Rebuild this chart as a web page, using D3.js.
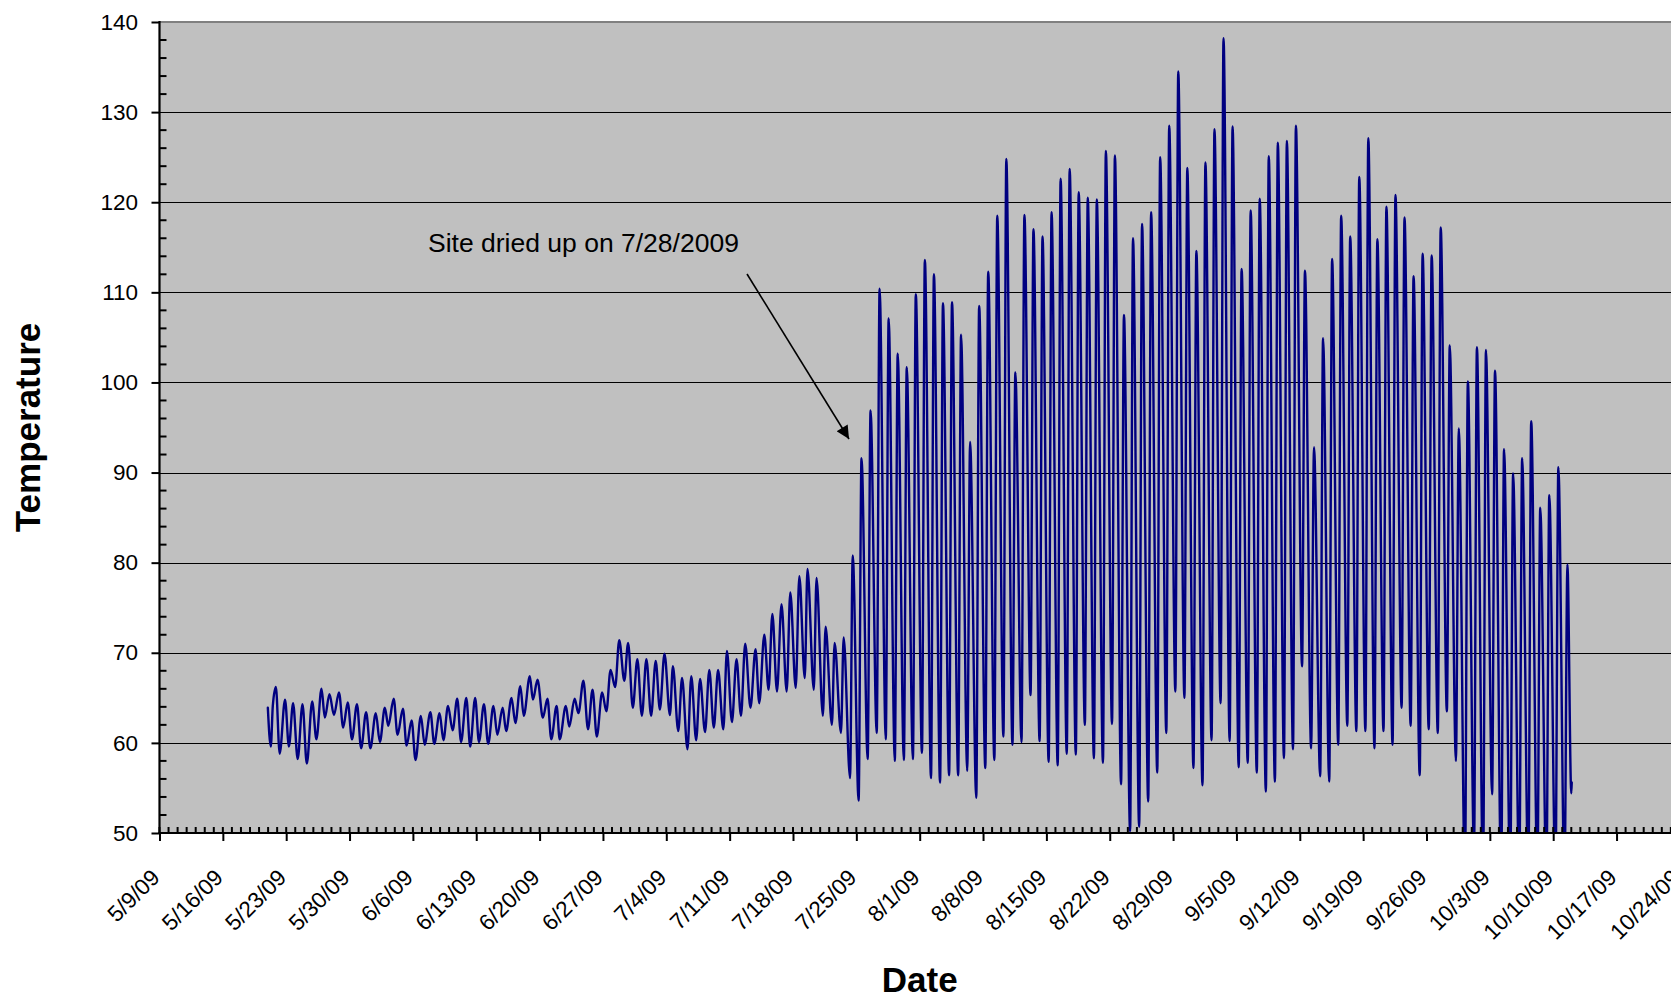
<!DOCTYPE html>
<html><head><meta charset="utf-8">
<script src="https://cdn.jsdelivr.net/npm/d3@7"></script>
<style>
html,body{margin:0;padding:0;background:#fff;overflow:hidden}
text{font-family:Arial,"Liberation Sans",sans-serif;fill:#000}
</style></head>
<body><svg id="c" width="1671" height="999"></svg>
<script>
// ---------- data ----------
const xTickLabels = ["5/9/09","5/16/09","5/23/09","5/30/09","6/6/09","6/13/09","6/20/09","6/27/09",
  "7/4/09","7/11/09","7/18/09","7/25/09","8/1/09","8/8/09","8/15/09","8/22/09","8/29/09","9/5/09",
  "9/12/09","9/19/09","9/26/09","10/3/09","10/10/09","10/17/09","10/24/09"];
const yTicks = [50,60,70,80,90,100,110,120,130,140];

// wet period readings: days since 5/9/09, temperature
const wetDays = [11.97,12.3,12.52,12.86,13.28,13.87,14.3,14.76,15.27,15.8,16.28,16.87,17.34,17.9,18.27,18.78,
  19.28,19.83,20.3,20.8,21.27,21.82,22.28,22.83,23.3,23.9,24.35,24.9,25.28,25.88,26.3,26.9,27.3,27.86,28.29,
  28.88,29.3,29.93,30.36,30.95,31.37,31.88,32.39,32.9,33.32,33.9,34.33,34.88,35.3,35.85,36.32,36.9,37.33,
  37.92,38.3,38.9,39.32,39.87,40.25,40.92,41.26,41.77,42.36,42.87,43.29,43.88,44.22,44.9,45.28,45.87,46.29,
  46.84,47.35,47.85,48.32,48.91,49.38,49.84,50.35,50.8,51.36,51.78,52.3,52.8,53.3,53.8,54.32,54.83,55.29,
  55.8,56.4,56.73,57.32,57.74,58.34,58.76,59.3,59.73,60.28,60.75,61.25,61.72,62.3,62.7,63.25,63.76,64.25,
  64.72,65.3,65.86,66.27,66.83,67.3,67.72,68.23,68.73,69.3,69.7,70.3,70.7,71.3,71.6,72.3,72.6,73.3,73.6,
  74.3,74.6,75.3,75.6,76.3,76.6];
const wetTemps = [63.9,59.6,64.1,66.2,58.8,64.8,59.6,64.4,58.2,64.3,57.7,64.6,60.4,66.0,62.8,65.4,
  63.1,65.6,61.7,64.5,60.4,64.3,59.4,63.4,59.4,63.3,60.1,63.9,61.9,64.9,60.9,63.8,59.7,62.5,58.1,
  63.0,59.8,63.4,59.9,63.3,60.3,64.1,61.4,64.9,60.1,65.0,59.6,65.0,60.1,64.3,59.9,64.1,60.9,
  63.9,61.3,65.0,62.2,66.3,63.0,67.4,64.8,67.0,62.8,64.9,60.4,64.1,60.4,64.1,61.8,64.9,63.3,
  66.9,61.5,65.9,60.7,65.6,63.5,68.1,66.2,71.4,66.9,71.1,63.9,69.3,63.0,69.3,63.0,69.1,63.7,
  69.9,63.1,68.5,61.3,67.2,59.3,67.4,60.3,67.1,61.2,68.1,61.7,68.1,61.5,70.2,62.3,69.3,63.0,
  71.0,63.9,70.4,64.4,72.0,65.9,74.3,65.7,75.4,65.7,76.7,66.1,78.5,67.2,79.3,65.9,78.3,63.0,72.9,
  62.0,71.1,61.1,71.7,56.1,80.8];

// dry period: one morning low and one afternoon high per day, from day 77 (7/25/09)
const dryFirstDay = 77;
const dryLows = [53.6,58.2,61.1,60.4,58.0,58.1,58.2,58.9,56.1,55.6,56.4,56.4,56.9,53.9,57.2,58.1,60.7,59.8,
  60.1,65.3,60.2,57.9,57.5,58.8,58.7,62.0,58.3,57.8,62.1,55.4,50.2,50.7,53.5,56.7,61.1,65.7,65.0,57.2,55.3,
  60.3,64.4,60.2,57.3,57.8,56.7,54.6,55.7,58.3,59.3,68.5,59.4,56.3,55.7,59.8,61.9,61.3,61.3,59.4,61.3,59.8,
  63.9,61.9,56.4,61.5,61.1,63.5,58.0,45,48,45,54.3,45,45,45,45,45,45,45,45];
const dryHighs = [91.6,96.9,110.4,107.1,103.2,101.7,109.8,113.6,112.0,108.8,108.9,105.3,93.4,108.5,112.3,
  118.5,124.8,101.1,118.6,117.0,116.2,118.9,122.6,123.7,121.1,120.5,120.3,125.7,125.2,107.5,116.0,117.6,
  118.9,125.0,128.5,134.5,123.8,114.6,124.4,128.1,138.2,128.4,112.6,119.1,120.4,125.1,126.6,126.8,128.5,
  112.4,92.8,104.9,113.7,118.5,116.2,122.8,127.1,115.9,119.5,120.8,118.3,111.8,114.3,114.1,117.2,104.1,
  94.9,100.1,103.9,103.6,101.3,92.6,89.9,91.6,95.7,86.1,87.5,90.6,79.8];
const tailDays = [156.0,156.05];
const tailTemps = [54.4,55.6];

const annotationText = "Site dried up on 7/28/2009";

// ---------- layout ----------
(function () {
const pL = 159.5, pT = 22, pB = 833, pR = 159.5 + 168 * 9.05;
const origin = Date.UTC(2009, 4, 9);
const toDate = d => new Date(origin + d * 864e5);
const tickDates = xTickLabels.map(s => { const [m, d, yy] = s.split('/').map(Number); return new Date(Date.UTC(2000 + yy, m - 1, d)); });

const x = d3.scaleUtc().domain([tickDates[0], tickDates[tickDates.length - 1]]).range([pL, pR]);
const y = d3.scaleLinear().domain([50, 140]).range([pB, pT]);

const svg = d3.select('#c');
const FONT = 'Arial, "Liberation Sans", sans-serif';

// plot background
svg.append('rect').attr('x', pL).attr('y', pT).attr('width', pR - pL).attr('height', pB - pT)
  .attr('fill', '#c0c0c0');

// gridlines
svg.append('g').selectAll('line').data(yTicks.filter(v => v > 50 && v < 140)).join('line')
  .attr('x1', pL).attr('x2', pR).attr('y1', d => Math.round(y(d)) + 0.5).attr('y2', d => Math.round(y(d)) + 0.5)
  .attr('stroke', '#000').attr('stroke-width', 1);
// top border
svg.append('line').attr('x1', pL).attr('x2', pR).attr('y1', y(140)).attr('y2', y(140))
  .attr('stroke', '#808080').attr('stroke-width', 2);

// data series
const pts = [];
wetDays.forEach((d, i) => pts.push([d, wetTemps[i]]));
dryLows.forEach((v, i) => {
  const day = dryFirstDay + i;
  pts.push([day + 0.25, v]);
  pts.push([day + 0.57, dryHighs[i]]);
});
tailDays.forEach((d, i) => pts.push([d, tailTemps[i]]));

svg.append('clipPath').attr('id', 'plotclip').append('rect')
  .attr('x', pL).attr('y', pT).attr('width', pR - pL).attr('height', pB - pT);

const line = d3.line().curve(d3.curveMonotoneX).x(p => x(toDate(p[0]))).y(p => y(p[1]));
svg.append('path').datum(pts).attr('d', line).attr('clip-path', 'url(#plotclip)')
  .attr('fill', 'none').attr('stroke', '#000080').attr('stroke-width', 2.4)
  .attr('stroke-linejoin', 'round').attr('stroke-linecap', 'round');

// y axis
const yAxis = svg.append('g').attr('transform', `translate(${pL},0)`)
  .call(d3.axisLeft(y).tickValues(yTicks).tickSize(8).tickPadding(13.5).tickFormat(d3.format('d')));
yAxis.select('.domain').remove();
yAxis.selectAll('.tick line').attr('stroke', '#000').attr('stroke-width', 2);
yAxis.selectAll('text').attr('font-size', 22.5).attr('font-family', FONT).attr('fill', '#000');
// y minor ticks
const yMinor = d3.range(52, 140, 2).filter(v => v % 10 !== 0);
svg.append('g').selectAll('line').data(yMinor).join('line')
  .attr('x1', pL).attr('x2', pL + 7).attr('y1', d => y(d)).attr('y2', d => y(d))
  .attr('stroke', '#000').attr('stroke-width', 2);

// x axis
const xAxis = svg.append('g').attr('transform', `translate(0,${pB})`)
  .call(d3.axisBottom(x).tickValues(tickDates).tickSize(8).tickFormat((d, i) => xTickLabels[i]));
xAxis.select('.domain').remove();
xAxis.selectAll('.tick line').attr('stroke', '#000').attr('stroke-width', 2);
xAxis.selectAll('text')
  .attr('x', null).attr('y', null).attr('dy', null)
  .attr('transform', 'translate(1,46) rotate(-45)')
  .attr('text-anchor', 'end')
  .attr('font-size', 22.5).attr('font-family', FONT).attr('fill', '#000');
// x minor ticks (daily, inside)
const xMinor = d3.utcDay.range(tickDates[0], new Date(+tickDates[tickDates.length - 1] + 864e5));
svg.append('g').selectAll('line').data(xMinor).join('line')
  .attr('x1', d => x(d)).attr('x2', d => x(d)).attr('y1', pB).attr('y2', pB - 6)
  .attr('stroke', '#000').attr('stroke-width', 2);

// axis lines
svg.append('line').attr('x1', pL).attr('x2', pL).attr('y1', pT - 1).attr('y2', pB + 1)
  .attr('stroke', '#000').attr('stroke-width', 2.2);
svg.append('line').attr('x1', pL - 1).attr('x2', pR).attr('y1', pB).attr('y2', pB)
  .attr('stroke', '#000').attr('stroke-width', 2.2);

// titles
svg.append('text').attr('transform', `translate(40,${(pT + pB) / 2}) rotate(-90)`)
  .attr('text-anchor', 'middle').attr('font-size', 35).attr('font-weight', 'bold').text('Temperature');
svg.append('text').attr('x', (pL + pR) / 2).attr('y', 992)
  .attr('text-anchor', 'middle').attr('font-size', 35).attr('font-weight', 'bold').text('Date');

// annotation
svg.append('text').attr('x', 428).attr('y', 252).attr('font-size', 26.5).text(annotationText);
svg.append('defs').append('marker').attr('id', 'ah').attr('viewBox', '0 0 10 10')
  .attr('refX', 10).attr('refY', 5).attr('markerWidth', 16).attr('markerHeight', 13)
  .attr('markerUnits', 'userSpaceOnUse').attr('orient', 'auto')
  .append('path').attr('d', 'M0,0L10,5L0,10z').attr('fill', '#000');
svg.append('line').attr('x1', 747).attr('y1', 274).attr('x2', 849).attr('y2', 439)
  .attr('stroke', '#000').attr('stroke-width', 1.6).attr('marker-end', 'url(#ah)');
})();
</script>
</body></html>
